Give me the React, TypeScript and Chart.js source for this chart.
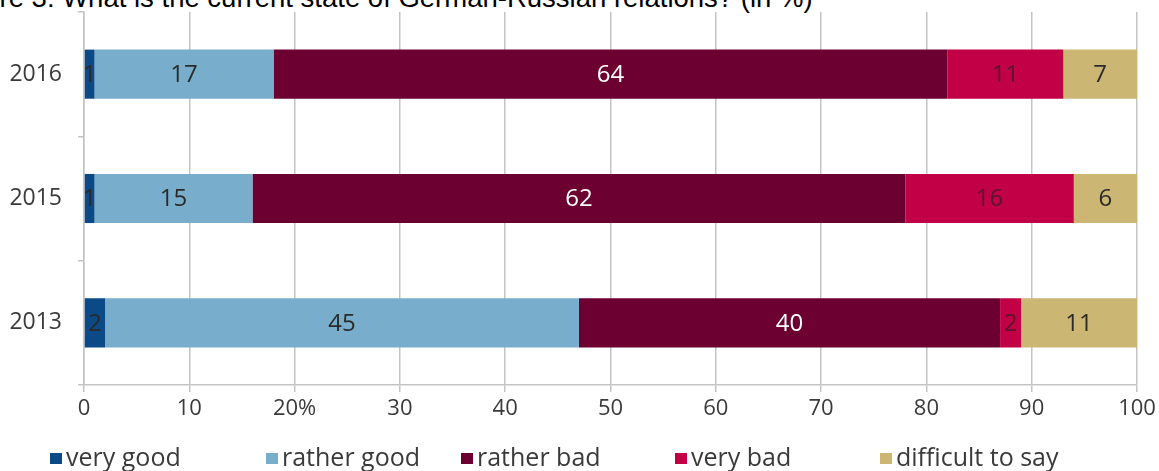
import React, { useEffect, useRef } from "react";
import { Chart, registerables } from "chart.js";

Chart.register(...registerables);

const TITLE = "Figure 3: What is the current state of German-Russian relations? (in %)";
const categories = ["2016", "2015", "2013"];
const seriesNames = ["very good", "rather good", "rather bad", "very bad", "difficult to say"];
const veryGood = [1, 1, 2];
const ratherGood = [17, 15, 45];
const ratherBad = [64, 62, 40];
const veryBad = [11, 16, 2];
const difficult = [7, 6, 11];
const xTicks = [0, 10, 20, 30, 40, 50, 60, 70, 80, 90, 100];
const xTickLabels = ["0", "10", "20%", "30", "40", "50", "60", "70", "80", "90", "100"];

const colors = ["#0b4a86", "#78aecb", "#6c0030", "#c20046", "#cbb674"];
const labelColors = ["#2a2a2a", "#2a2a2a", "#ffffff", "#5a1430", "#2a2a2a"];
const legendX = [50, 266, 461, 675, 880];

const FONT = "'Open Sans', 'DejaVu Sans', sans-serif";

const labelPlugin = {
  id: "segLabels",
  afterDatasetsDraw(chart: any) {
    const ctx = chart.ctx;
    ctx.save();
    ctx.font = `400 24px ${FONT}`;
    ctx.textAlign = "center";
    ctx.textBaseline = "middle";
    chart.data.datasets.forEach((ds: any, di: number) => {
      const meta = chart.getDatasetMeta(di);
      meta.data.forEach((el: any, i: number) => {
        const v = ds.data[i];
        if (!v) return;
        const cx = (el.x + el.base) / 2;
        ctx.fillStyle = labelColors[di];
        ctx.fillText(String(v), cx, el.y + 1);
      });
    });
    ctx.restore();
  },
};

export default function App() {
  const ref = useRef<HTMLCanvasElement | null>(null);

  useEffect(() => {
    if (!ref.current) return;
    const allData = [veryGood, ratherGood, ratherBad, veryBad, difficult];
    const chart = new Chart(ref.current, {
      type: "bar",
      data: {
        labels: categories,
        datasets: seriesNames.map((name, i) => ({
          label: name,
          data: allData[i],
          backgroundColor: colors[i],
          borderWidth: 0,
          categoryPercentage: 1,
          barPercentage: 0.395,
        })),
      },
      options: {
        indexAxis: "y",
        responsive: false,
        animation: false,
        maintainAspectRatio: false,
        layout: { padding: { top: 12, right: 22, left: 0, bottom: 0 } },
        plugins: {
          legend: { display: false },
          tooltip: { enabled: false },
          title: { display: false },
        },
        scales: {
          x: {
            stacked: true,
            min: 0,
            max: 100,
            afterBuildTicks(scale: any) {
              scale.ticks = xTicks.map((v) => ({ value: v }));
            },
            afterFit(scale: any) {
              scale.height = 86;
              scale.paddingLeft = 0;
              scale.paddingRight = 0;
            },
            ticks: {
              autoSkip: false,
              maxRotation: 0,
              padding: 4,
              color: "#3a3a3a",
              font: { family: FONT, size: 22, weight: "400" },
              callback: (v: any) => {
                const idx = xTicks.indexOf(Number(v));
                return idx >= 0 ? xTickLabels[idx] : "";
              },
            },
            grid: {
              color: "#c4c4c4",
              lineWidth: 1.5,
              drawTicks: true,
              tickLength: 7,
            },
            border: { display: true, color: "#c4c4c4", width: 1.5 },
          },
          y: {
            stacked: true,
            afterFit(scale: any) {
              scale.width = 84;
              scale.paddingTop = 0;
              scale.paddingBottom = 0;
            },
            ticks: {
              padding: 16,
              color: "#3a3a3a",
              font: { family: FONT, size: 23, weight: "400" },
            },
            grid: {
              offset: true,
              drawOnChartArea: false,
              drawTicks: true,
              tickLength: 6,
              color: "#c4c4c4",
              lineWidth: 1.5,
            },
            border: { display: true, color: "#c4c4c4", width: 1.5 },
          },
        },
      },
      plugins: [labelPlugin],
    } as any);
    return () => chart.destroy();
  }, []);

  return (
    <div style={{ position: "fixed", left: 0, top: 0, width: 1159, height: 471, overflow: "hidden", background: "#fff" }}>
      <div
        style={{
          position: "absolute",
          left: -54,
          top: -18,
          fontFamily: "'Liberation Sans', Arial, sans-serif",
          fontSize: 27.5,
          lineHeight: "32px",
          whiteSpace: "nowrap",
          color: "#000",
        }}
      >
        {TITLE}
      </div>
      <canvas ref={ref} width={1159} height={471} style={{ position: "absolute", left: 0, top: 0, width: 1159, height: 471 }} />
      {seriesNames.map((name, i) => (
        <div
          key={name}
          style={{
            position: "absolute",
            left: legendX[i],
            top: 441,
            height: 30,
            display: "flex",
            alignItems: "center",
            whiteSpace: "nowrap",
            fontFamily: FONT,
            fontWeight: 400,
            fontSize: 25,
            color: "#3a3a3a",
          }}
        >
          <span style={{ display: "inline-block", width: 12, height: 11, background: colors[i], marginRight: 4, marginTop: 4 }} />
          <span>{name}</span>
        </div>
      ))}
    </div>
  );
}
